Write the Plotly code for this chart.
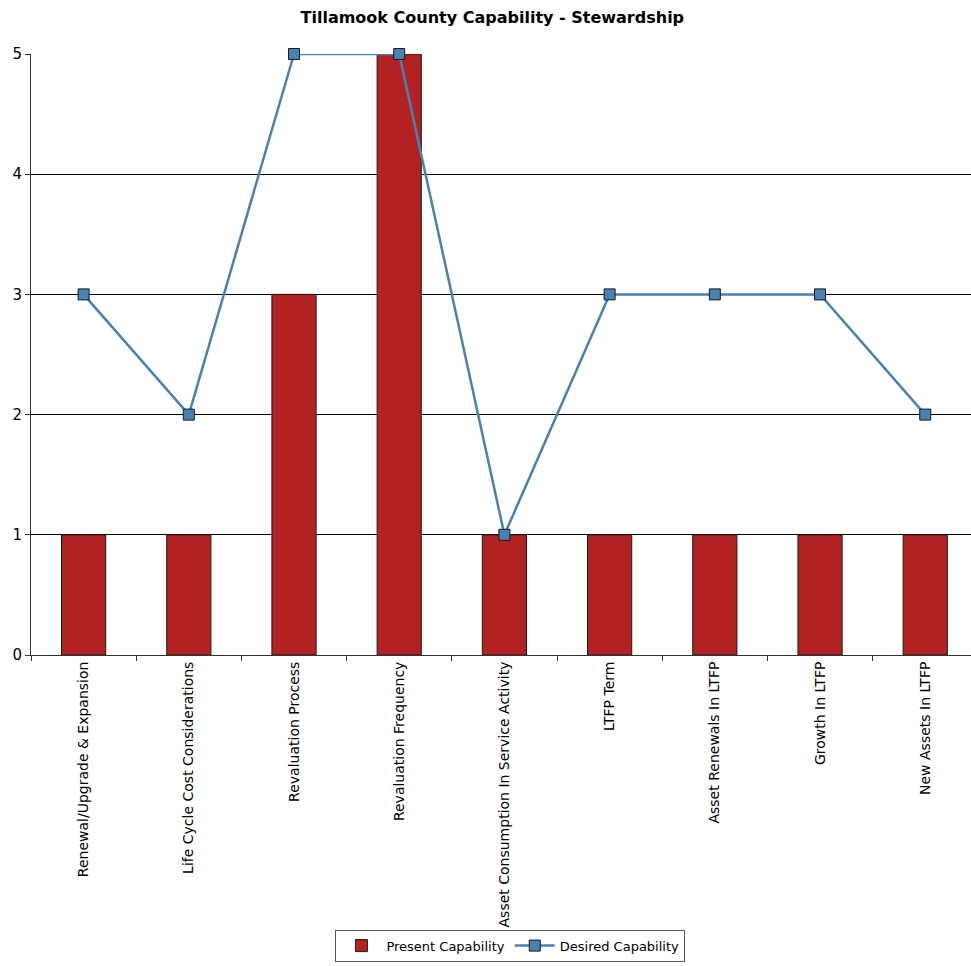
import plotly.graph_objects as go

categories = [
    "Renewal/Upgrade & Expansion",
    "Life Cycle Cost Considerations",
    "Revaluation Process",
    "Revaluation Frequency",
    "Asset Consumption In Service Activity",
    "LTFP Term",
    "Asset Renewals In LTFP",
    "Growth In LTFP",
    "New Assets In LTFP",
]
present = [1, 1, 3, 5, 1, 1, 1, 1, 1]
desired = [3, 2, 5, 5, 1, 3, 3, 3, 2]

font_family = "DejaVu Sans"

fig = go.Figure()
fig.add_trace(go.Bar(
    x=categories, y=present, name="Present Capability",
    marker=dict(color="#B22222", line=dict(color="#1a1a1a", width=1)),
    width=0.42,
))
fig.add_trace(go.Scatter(
    x=categories, y=desired, name="Desired Capability",
    mode="lines+markers",
    line=dict(color="#4682B4", width=2.5),
    marker=dict(symbol="square", size=11, color="#4682B4",
                line=dict(color="#1a1a1a", width=1)),
    cliponaxis=False,
))

fig.update_layout(
    width=971, height=966,
    margin=dict(l=31, r=0, t=54, b=311),
    paper_bgcolor="white", plot_bgcolor="white",
    title=dict(text="<b>Tillamook County Capability - Stewardship</b>",
               x=0.507, xanchor="center", y=0.982, yanchor="middle",
               font=dict(family=font_family, size=16, color="#000")),
    showlegend=True,
    legend=dict(orientation="h", x=0.51, xanchor="center", y=-0.457, yanchor="top",
                bordercolor="#555", borderwidth=1, bgcolor="white",
                font=dict(family=font_family, size=13, color="#000"),
                itemwidth=40),
    xaxis=dict(
        range=[-0.5, 8.435],
        showgrid=False, showline=True, linecolor="#333", linewidth=1,
        ticks="outside", ticklen=5, tickcolor="#333",
        tickson="boundaries", tickangle=-90,
        tickfont=dict(family=font_family, size=14, color="#000"),
    ),
    yaxis=dict(
        range=[0, 5], dtick=1,
        showgrid=True, gridcolor="#000", gridwidth=1,
        showline=True, linecolor="#333", linewidth=1,
        ticks="outside", ticklen=5, tickcolor="#333",
        tickfont=dict(family=font_family, size=15, color="#000"),
        zeroline=False,
    ),
    bargap=0.58,
)

fig.write_html("out.html")
